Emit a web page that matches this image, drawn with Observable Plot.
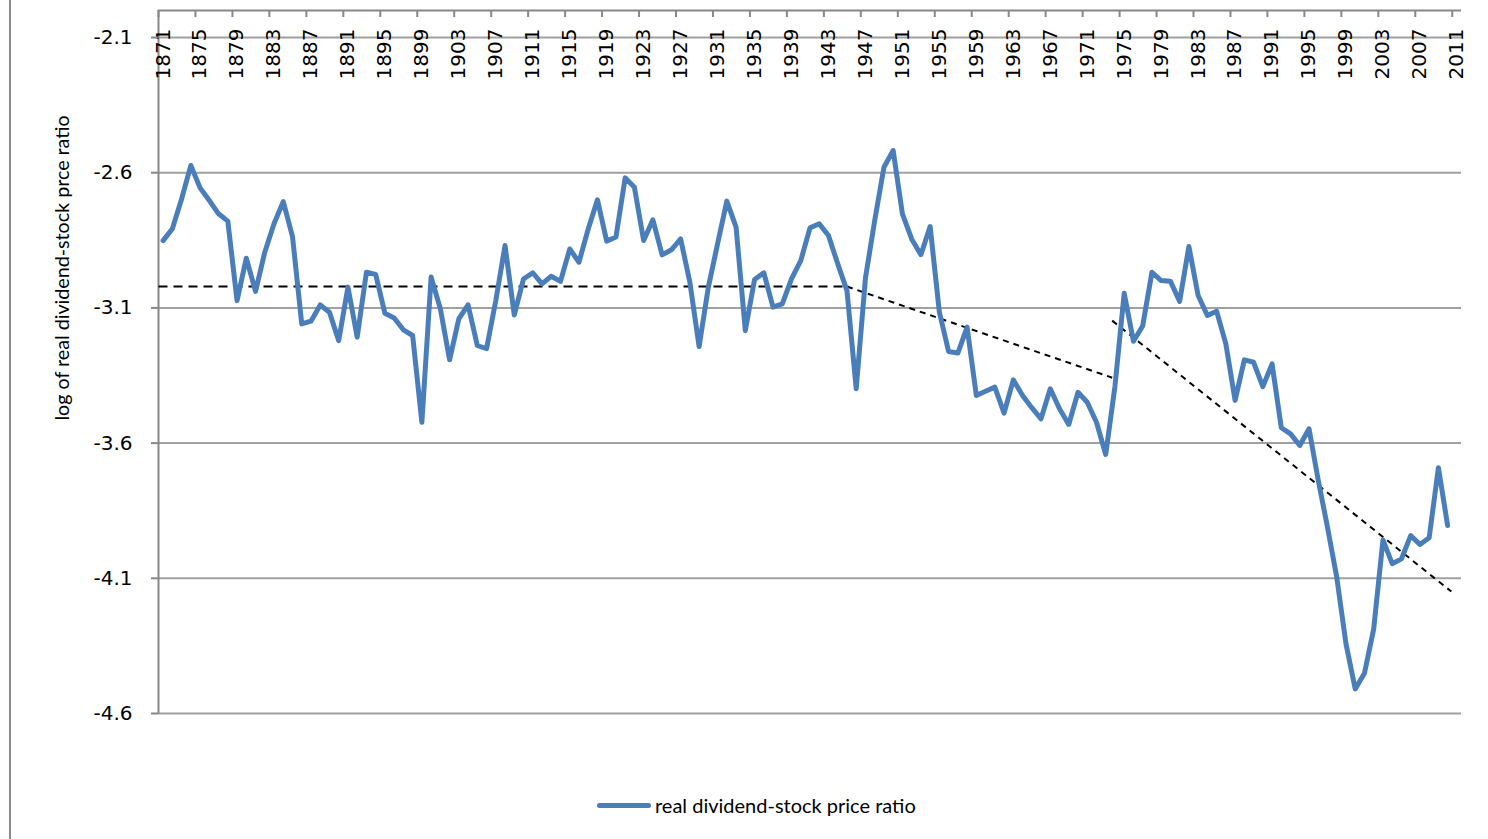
<!DOCTYPE html>
<html>
<head>
<meta charset="utf-8">
<script src="https://cdn.jsdelivr.net/npm/d3@7"></script>
<script src="https://cdn.jsdelivr.net/npm/@observablehq/plot@0.6"></script>
<style>
  html, body { margin: 0; padding: 0; background: #fff; }
  #wrap { position: relative; width: 1488px; height: 839px; overflow: hidden; }
  #border { position: absolute; left: 9px; top: 0; width: 2px; height: 839px; background: #8c8c8c; }
  #legend { height: 30px; margin-top: 10px; padding-left: 597px; display: flex; align-items: center;
            font-family: Lato, "Open Sans", sans-serif; font-size: 20px; color: #000; }
  #legend .sw { display: inline-block; width: 54px; height: 5px; border-radius: 3px; background: #4a7ebb; margin-right: 4px; }
</style>
</head>
<body>
<div id="wrap">
  <div id="chart"></div>
  <div id="legend"><span class="sw"></span><span>real dividend-stock price ratio</span></div>
  <div id="border"></div>
</div>
<script>
// ---- data ----
const firstYear = 1871;
const values = [
  -2.851, -2.807, -2.697, -2.573, -2.656, -2.703, -2.752, -2.779, -3.073, -2.916, // 1871-1880
  -3.039, -2.894, -2.789, -2.707, -2.836, -3.159, -3.149, -3.089, -3.116, -3.221, // 1881-1890
  -3.023, -3.208, -2.968, -2.976, -3.120, -3.137, -3.181, -3.202, -3.523, -2.986, // 1891-1900
  -3.103, -3.292, -3.140, -3.089, -3.239, -3.251, -3.073, -2.869, -3.126, -2.993, // 1901-1910
  -2.970, -3.011, -2.983, -3.002, -2.882, -2.931, -2.808, -2.700, -2.853, -2.838, // 1911-1920
  -2.619, -2.654, -2.851, -2.774, -2.904, -2.885, -2.845, -3.005, -3.243, -3.023, // 1921-1930
  -2.863, -2.705, -2.801, -3.184, -2.995, -2.970, -3.097, -3.085, -2.993, -2.925, // 1931-1940
  -2.804, -2.789, -2.832, -2.937, -3.036, -3.399, -2.990, -2.777, -2.580, -2.518, // 1941-1950
  -2.752, -2.845, -2.903, -2.799, -3.116, -3.261, -3.267, -3.171, -3.424, -3.408, // 1951-1960
  -3.393, -3.489, -3.366, -3.424, -3.469, -3.510, -3.399, -3.473, -3.531, -3.412, // 1961-1970
  -3.449, -3.523, -3.642, -3.390, -3.046, -3.223, -3.167, -2.968, -2.999, -3.001, // 1971-1980
  -3.076, -2.873, -3.054, -3.128, -3.112, -3.233, -3.442, -3.292, -3.301, -3.391, // 1981-1990
  -3.307, -3.543, -3.566, -3.609, -3.547, -3.738, -3.911, -4.096, -4.342, -4.509, // 1991-2000
  -4.451, -4.287, -3.958, -4.046, -4.028, -3.942, -3.975, -3.950, -3.691, -3.905  // 2001-2010
];
const tickYears = [1871, 1875, 1879, 1883, 1887, 1891, 1895, 1899, 1903, 1907, 1911, 1915, 1919,
  1923, 1927, 1931, 1935, 1939, 1943, 1947, 1951, 1955, 1959, 1963, 1967, 1971, 1975, 1979, 1983,
  1987, 1991, 1995, 1999, 2003, 2007, 2011];
const yTicks = [-4.6, -4.1, -3.6, -3.1, -2.6, -2.1];
const yDomain = [-4.6, -2.0];
const xDomain = [1870.5, 2011.5];
// dashed trend segments (start year, start value, end year, end value)
const trendFlat = [{x1: 1870.5, y1: -3.021, x2: 1945.2, y2: -3.021}];
const trendSlopes = [
  {x1: 1945.0, y1: -3.021, x2: 1973.7, y2: -3.358},
  {x1: 1973.7, y1: -3.147, x2: 2010.4, y2: -4.149}
];

const data = values.map((v, i) => ({year: firstYear + i, value: v}));
const tickBounds = tickYears.map(y => y - 0.5);

const chart = Plot.plot({
  width: 1488,
  height: 780,
  marginLeft: 158,
  marginRight: 27,
  marginTop: 10,
  marginBottom: 67,
  style: {fontFamily: "DejaVu Sans", fontSize: "20px", color: "#000", background: "#fff", overflow: "visible"},
  x: {type: "linear", domain: xDomain, axis: null},
  y: {type: "linear", domain: yDomain},
  marks: [
    Plot.ruleY(yTicks, {stroke: "#a0a0a0", strokeWidth: 2}),
    Plot.ruleY([yDomain[1]], {stroke: "#888", strokeWidth: 2}),
    Plot.ruleX([xDomain[0]], {stroke: "#888", strokeWidth: 2}),
    Plot.tickX(tickBounds, {x: d => d, stroke: "#888", strokeWidth: 2, insetBottom: 696}),
    Plot.text(tickYears, {x: d => d, frameAnchor: "top", dy: 18, rotate: -90, textAnchor: "end",
      lineAnchor: "middle", text: d => String(d), fontSize: 20, fontFamily: "DejaVu Sans", fill: "#000"}),
    Plot.axisY({ticks: yTicks, tickFormat: d => d.toFixed(1), tickSize: 7, tickPadding: 19,
      stroke: "#888", strokeWidth: 2, fontSize: 20, fontFamily: "DejaVu Sans", fill: "#000", label: null}),
    Plot.text(["log of real dividend-stock prce ratio"], {frameAnchor: "left", dx: -96, dy: -94, rotate: -90,
      textAnchor: "middle", text: d => d, fontSize: 19.7, fontFamily: "Lato", fill: "#000"}),
    Plot.link(trendFlat, {x1: "x1", y1: "y1", x2: "x2", y2: "y2", stroke: "#000", strokeWidth: 2, strokeDasharray: "9,6"}),
    Plot.link(trendSlopes, {x1: "x1", y1: "y1", x2: "x2", y2: "y2", stroke: "#000", strokeWidth: 2, strokeDasharray: "6,5"}),
    Plot.line(data, {x: "year", y: "value", stroke: "#4a7ebb", strokeWidth: 5, strokeLinejoin: "round", strokeLinecap: "round"})
  ]
});
document.getElementById("chart").appendChild(chart);
</script>
</body>
</html>
